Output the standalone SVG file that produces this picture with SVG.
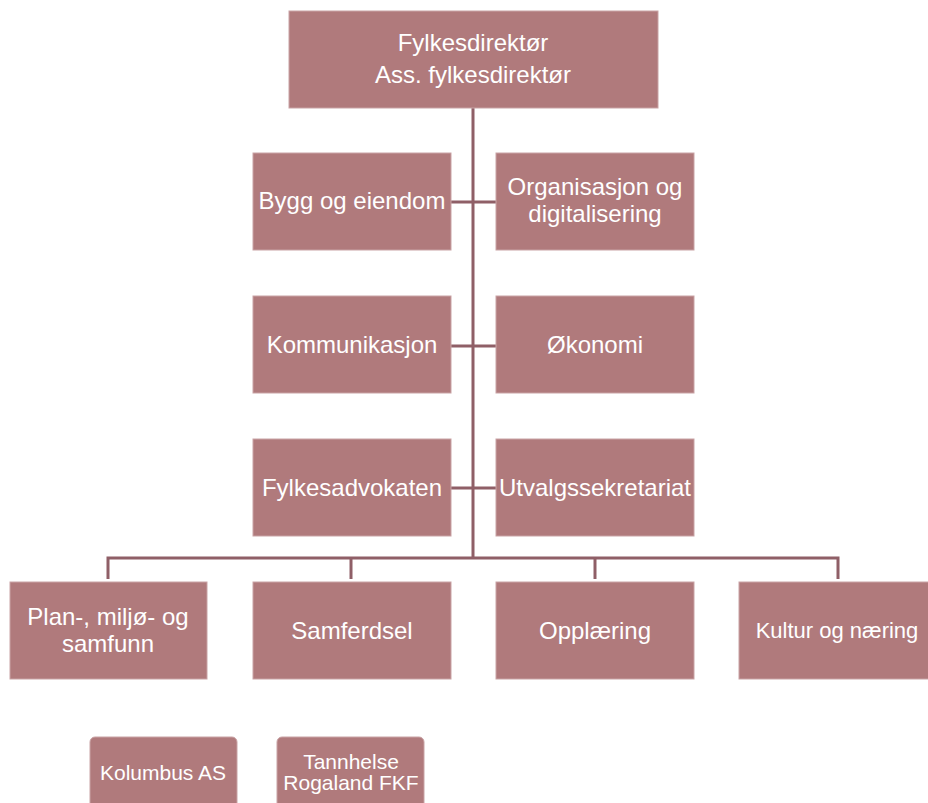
<svg xmlns="http://www.w3.org/2000/svg" width="928" height="803" viewBox="0 0 928 803">
<style>
.box{fill:#B07A7C;stroke:#C9A3A5;stroke-width:1}
.t{font-family:"Liberation Sans",Arial,sans-serif;font-size:24px;fill:#fff;text-anchor:middle}
.ts{font-family:"Liberation Sans",Arial,sans-serif;font-size:21px;fill:#fff;text-anchor:middle}
.c{stroke:#8F5F67;stroke-width:3;fill:none}
</style>
<rect width="928" height="803" fill="#fff"/>
<g id="connectors">
<line class="c" x1="473" y1="108" x2="473" y2="558"/>
<line class="c" x1="451" y1="202" x2="496" y2="202"/>
<line class="c" x1="451" y1="346" x2="496" y2="346"/>
<line class="c" x1="451" y1="488" x2="496" y2="488"/>
<polyline class="c" points="108,579 108,558 838,558 838,579"/>
<line class="c" x1="351" y1="558" x2="351" y2="579"/>
<line class="c" x1="595" y1="558" x2="595" y2="579"/>
</g>
<g id="fylkesdirektor">
<rect class="box" x="289" y="11" width="369" height="97"/>
<text class="t" x="473" y="51">Fylkesdirektør<tspan x="473" y="83">Ass. fylkesdirektør</tspan></text>
</g>
<g id="bygg">
<rect class="box" x="253" y="153" width="198" height="97"/>
<text class="t" x="352" y="209">Bygg og eiendom</text>
</g>
<g id="organisasjon">
<rect class="box" x="496" y="153" width="198" height="97"/>
<text class="t" x="595" y="195">Organisasjon og<tspan x="595" y="222">digitalisering</tspan></text>
</g>
<g id="kommunikasjon">
<rect class="box" x="253" y="296" width="198" height="97"/>
<text class="t" x="352" y="353">Kommunikasjon</text>
</g>
<g id="okonomi">
<rect class="box" x="496" y="296" width="198" height="97"/>
<text class="t" x="595" y="353">Økonomi</text>
</g>
<g id="fylkesadvokaten">
<rect class="box" x="253" y="439" width="198" height="97"/>
<text class="t" x="352" y="496">Fylkesadvokaten</text>
</g>
<g id="utvalgssekretariat">
<rect class="box" x="496" y="439" width="198" height="97"/>
<text class="t" x="595" y="496">Utvalgssekretariat</text>
</g>
<g id="plan">
<rect class="box" x="10" y="582" width="197" height="97"/>
<text class="t" x="108" y="625">Plan-, miljø- og<tspan x="108" y="652">samfunn</tspan></text>
</g>
<g id="samferdsel">
<rect class="box" x="253" y="582" width="198" height="97"/>
<text class="t" x="352" y="639">Samferdsel</text>
</g>
<g id="opplaering">
<rect class="box" x="496" y="582" width="198" height="97"/>
<text class="t" x="595" y="639">Opplæring</text>
</g>
<g id="kultur">
<rect class="box" x="739" y="582" width="198" height="97"/>
<text class="t" x="837" y="638" style="font-size:22px">Kultur og næring</text>
</g>
<g id="kolumbus">
<rect class="box" x="90" y="737" width="147" height="80" rx="5"/>
<text class="ts" x="163" y="780">Kolumbus AS</text>
</g>
<g id="tannhelse">
<rect class="box" x="277" y="737" width="147" height="80" rx="5"/>
<text class="ts" x="351" y="769">Tannhelse<tspan x="351" y="790">Rogaland FKF</tspan></text>
</g>
</svg>
